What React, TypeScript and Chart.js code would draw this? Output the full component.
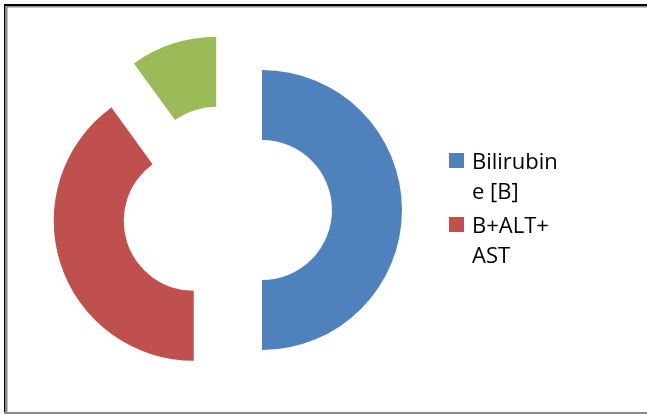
import { useEffect, useRef } from 'react';
import { Chart, registerables } from 'chart.js';

Chart.register(...registerables);

// Slice categories and their shares of the ring (clockwise from 12 o'clock)
const categories = ['Bilirubine [B]', 'B+ALT+AST', ''];
const shares = [50, 40, 10];
const sliceColors = ['#4F81BD', '#C0504D', '#9BBB59'];
// Legend text as it wraps in the narrow legend column
const legendLines = [
  ['Bilirubin', 'e [B]'],
  ['B+ALT+', 'AST'],
];

// Pulls every arc outward along its own bisector so the ring looks exploded
const explodePlugin = {
  id: 'explode',
  afterDatasetUpdate(chart: any, args: any, opts: any) {
    const d = opts.distance || 0;
    for (const arc of args.meta.data) {
      const mid = (arc.startAngle + arc.endAngle) / 2;
      arc.x += Math.cos(mid) * d;
      arc.y += Math.sin(mid) * d;
    }
  },
};

// White page with the bevelled frame lines
const framePlugin = {
  id: 'frame',
  beforeDraw(chart: any) {
    const { ctx, width, height } = chart;
    ctx.save();
    ctx.fillStyle = '#ffffff';
    ctx.fillRect(0, 0, width, height);
    ctx.fillStyle = '#000000';
    ctx.fillRect(4, 4, width - 4, 2);
    ctx.fillRect(4, 4, 1.5, height - 4);
    ctx.fillStyle = '#8c8c8c';
    ctx.fillRect(5.5, 6, width - 5.5, 1.5);
    ctx.fillRect(5.5, 6, 2, height - 6);
    ctx.fillRect(4, height - 2, width - 4, 2);
    ctx.restore();
  },
};

// Legend column with wrapped labels
const legendPlugin = {
  id: 'wrapLegend',
  afterDraw(chart: any, _args: any, opts: any) {
    const { ctx } = chart;
    const ds = chart.data.datasets[0];
    ctx.save();
    ctx.font = `${opts.fontSize}px ${opts.fontFamily}`;
    ctx.textBaseline = 'alphabetic';
    ctx.textAlign = 'left';
    let top = opts.top;
    legendLines.forEach((lines, i) => {
      ctx.fillStyle = ds.backgroundColor[i];
      ctx.fillRect(opts.x, top, opts.box, opts.box);
      ctx.fillStyle = '#000000';
      lines.forEach((line, j) => {
        ctx.fillText(line, opts.textX, top + opts.baseline + j * opts.lineHeight);
      });
      top += opts.entryGap;
    });
    ctx.restore();
  },
};

export default function App() {
  const canvasRef = useRef<HTMLCanvasElement | null>(null);

  useEffect(() => {
    if (!canvasRef.current) return;
    const chart = new Chart(canvasRef.current, {
      type: 'doughnut',
      data: {
        labels: categories,
        datasets: [
          {
            data: shares,
            backgroundColor: sliceColors,
            borderWidth: 0,
            clip: false,
          } as any,
        ],
      },
      options: {
        responsive: false,
        animation: false,
        events: [],
        cutout: '50%',
        layout: { padding: { top: 70, bottom: 64, left: 57, right: 250 } },
        plugins: {
          legend: { display: false },
          tooltip: { enabled: false },
          title: { display: false },
          explode: { distance: 35 },
          wrapLegend: {
            x: 449,
            textX: 472,
            top: 153,
            box: 15,
            baseline: 16,
            lineHeight: 30,
            entryGap: 64,
            fontSize: 22,
            fontFamily: '"Open Sans", sans-serif',
          },
        } as any,
      },
      plugins: [framePlugin, explodePlugin, legendPlugin],
    });
    return () => chart.destroy();
  }, []);

  return (
    <div style={{ position: 'absolute', left: 0, top: 0, width: 647, height: 414 }}>
      <canvas ref={canvasRef} width={647} height={414} />
    </div>
  );
}
